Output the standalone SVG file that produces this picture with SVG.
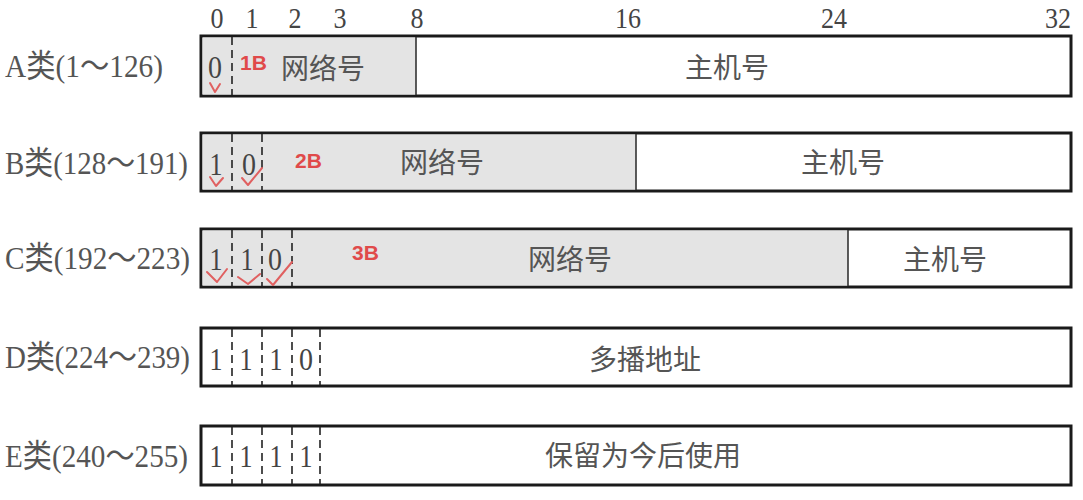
<svg xmlns="http://www.w3.org/2000/svg" width="1083" height="500" viewBox="0 0 1083 500">
<style>
.bg{fill:#ffffff}
.box{fill:#ffffff;stroke:#1a1a1a;stroke-width:3}
.net{fill:#e4e4e4}
.div{stroke:#333;stroke-width:1.6}
.dash{stroke:#222;stroke-width:1.6;stroke-dasharray:8,5}
.num{font-family:"Liberation Serif","Noto Sans CJK SC",serif;font-size:29px;fill:#444;text-anchor:middle}
.lbl{font-family:"Liberation Serif","Noto Sans CJK SC",serif;font-size:32px;fill:#555}
.bit{font-family:"Liberation Serif",serif;font-size:32px;fill:#444;text-anchor:middle}
.cn{font-family:"Noto Sans CJK SC",sans-serif;font-size:28px;fill:#555;text-anchor:middle}
.red{font-family:"Liberation Sans","Noto Sans",sans-serif;font-weight:bold;font-size:21px;fill:#e04a4a}
.chk{fill:none;stroke:#e06060;stroke-width:2;stroke-linecap:round;stroke-linejoin:round}
</style>
<rect class="bg" x="0" y="0" width="1083" height="500"/>
<g id="scale">
<text class="num" x="217" y="28" textLength="13" lengthAdjust="spacingAndGlyphs">0</text>
<text class="num" x="252" y="28" textLength="13" lengthAdjust="spacingAndGlyphs">1</text>
<text class="num" x="295" y="28" textLength="13" lengthAdjust="spacingAndGlyphs">2</text>
<text class="num" x="340" y="28" textLength="13" lengthAdjust="spacingAndGlyphs">3</text>
<text class="num" x="417" y="28" textLength="13" lengthAdjust="spacingAndGlyphs">8</text>
<text class="num" x="628" y="28" textLength="26" lengthAdjust="spacingAndGlyphs">16</text>
<text class="num" x="834" y="28" textLength="26" lengthAdjust="spacingAndGlyphs">24</text>
<text class="num" x="1058" y="28" textLength="26" lengthAdjust="spacingAndGlyphs">32</text>
</g>
<g id="classA">
<text class="lbl" x="5" y="77" textLength="158" lengthAdjust="spacingAndGlyphs">A类(1～126)</text>
<rect class="box" x="201" y="36" width="870" height="60"/>
<rect class="net" x="202.5" y="37.5" width="213.5" height="57"/>
<line class="div" x1="416" y1="37" x2="416" y2="95"/>
<line class="dash" x1="232" y1="37" x2="232" y2="95"/>
<text class="bit" x="215" y="78" textLength="14" lengthAdjust="spacingAndGlyphs">0</text>
<text class="red" x="240" y="70">1B</text>
<text class="cn" x="323" y="79">网络号</text>
<text class="cn" x="727" y="78">主机号</text>
<path class="chk" d="M210,83 L215,92 L220,84"/>
</g>
<g id="classB">
<text class="lbl" x="5" y="174" textLength="183" lengthAdjust="spacingAndGlyphs">B类(128～191)</text>
<rect class="box" x="201" y="133" width="870" height="58"/>
<rect class="net" x="202.5" y="134.5" width="433.5" height="55"/>
<line class="div" x1="636" y1="134" x2="636" y2="190"/>
<line class="dash" x1="232" y1="134" x2="232" y2="190"/>
<line class="dash" x1="262" y1="134" x2="262" y2="190"/>
<text class="bit" x="216" y="175" textLength="13" lengthAdjust="spacingAndGlyphs">1</text>
<text class="bit" x="249" y="175" textLength="14" lengthAdjust="spacingAndGlyphs">0</text>
<text class="red" x="295" y="168">2B</text>
<text class="cn" x="442" y="173">网络号</text>
<text class="cn" x="843" y="173">主机号</text>
<path class="chk" d="M210,177 L216,186 L223,178"/>
<path class="chk" d="M242,178 L248,185 L262,168"/>
</g>
<g id="classC">
<text class="lbl" x="5" y="269" textLength="185" lengthAdjust="spacingAndGlyphs">C类(192～223)</text>
<rect class="box" x="201" y="229" width="870" height="58"/>
<rect class="net" x="202.5" y="230.5" width="645.5" height="55"/>
<line class="div" x1="848" y1="230" x2="848" y2="286"/>
<line class="dash" x1="232" y1="230" x2="232" y2="286"/>
<line class="dash" x1="262" y1="230" x2="262" y2="286"/>
<line class="dash" x1="292" y1="230" x2="292" y2="286"/>
<text class="bit" x="216" y="270" textLength="13" lengthAdjust="spacingAndGlyphs">1</text>
<text class="bit" x="247" y="270" textLength="13" lengthAdjust="spacingAndGlyphs">1</text>
<text class="bit" x="275" y="270" textLength="14" lengthAdjust="spacingAndGlyphs">0</text>
<text class="red" x="352" y="260">3B</text>
<text class="cn" x="570" y="270">网络号</text>
<text class="cn" x="945" y="270">主机号</text>
<path class="chk" d="M207,272 L217,282 L227,269"/>
<path class="chk" d="M238,277 L248,284 L260,274"/>
<path class="chk" d="M267,279 L273,285 L292,262"/>
</g>
<g id="classD">
<text class="lbl" x="5" y="368" textLength="185" lengthAdjust="spacingAndGlyphs">D类(224～239)</text>
<rect class="box" x="201" y="328" width="870" height="58"/>
<line class="dash" x1="232" y1="329" x2="232" y2="385"/>
<line class="dash" x1="262" y1="329" x2="262" y2="385"/>
<line class="dash" x1="292" y1="329" x2="292" y2="385"/>
<line class="dash" x1="320" y1="329" x2="320" y2="385"/>
<text class="bit" x="216" y="370" textLength="13" lengthAdjust="spacingAndGlyphs">1</text>
<text class="bit" x="246" y="370" textLength="13" lengthAdjust="spacingAndGlyphs">1</text>
<text class="bit" x="276" y="370" textLength="13" lengthAdjust="spacingAndGlyphs">1</text>
<text class="bit" x="306" y="370" textLength="14" lengthAdjust="spacingAndGlyphs">0</text>
<text class="cn" x="645" y="370">多播地址</text>
</g>
<g id="classE">
<text class="lbl" x="5" y="467" textLength="183" lengthAdjust="spacingAndGlyphs">E类(240～255)</text>
<rect class="box" x="201" y="426" width="870" height="59"/>
<line class="dash" x1="232" y1="427" x2="232" y2="484"/>
<line class="dash" x1="262" y1="427" x2="262" y2="484"/>
<line class="dash" x1="292" y1="427" x2="292" y2="484"/>
<line class="dash" x1="320" y1="427" x2="320" y2="484"/>
<text class="bit" x="216" y="467" textLength="13" lengthAdjust="spacingAndGlyphs">1</text>
<text class="bit" x="246" y="467" textLength="13" lengthAdjust="spacingAndGlyphs">1</text>
<text class="bit" x="276" y="467" textLength="13" lengthAdjust="spacingAndGlyphs">1</text>
<text class="bit" x="306" y="467" textLength="13" lengthAdjust="spacingAndGlyphs">1</text>
<text class="cn" x="643" y="466">保留为今后使用</text>
</g>
</svg>
